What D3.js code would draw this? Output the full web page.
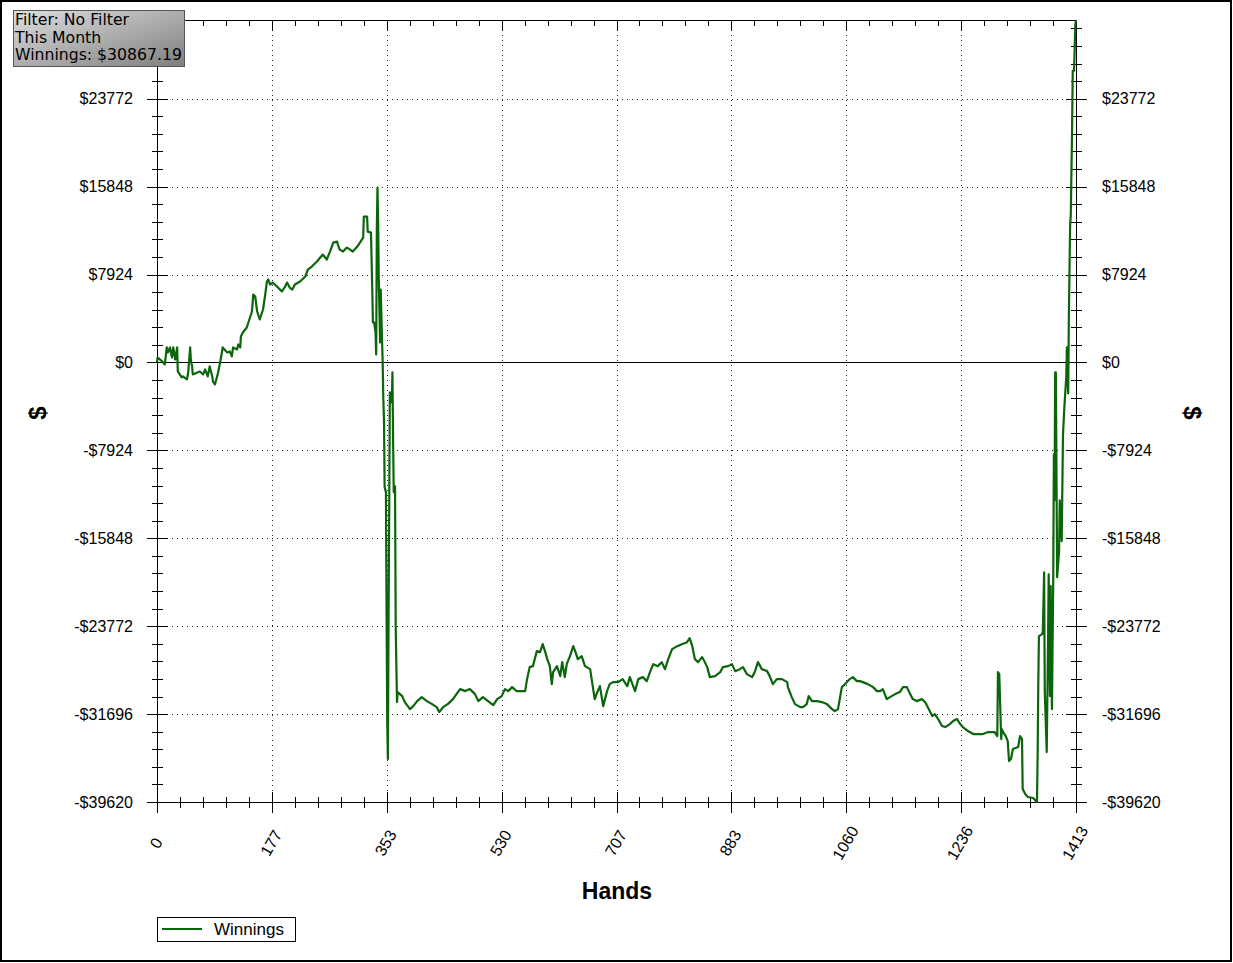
<!DOCTYPE html>
<html>
<head>
<meta charset="utf-8">
<script src="https://cdn.jsdelivr.net/npm/d3@7"></script>
<style>
  html, body { margin: 0; padding: 0; background: #fff; }
  svg { display: block; }
</style>
</head>
<body>
<svg id="chart" width="1233" height="963"></svg>
<script>
// ---------- DATA ----------
const infoLines = ["Filter: No Filter", "This Month", "Winnings: $30867.19"];
const seriesName = "Winnings";
const xAxisTitle = "Hands";
const yAxisTitle = "$";
const xTickValues = [0, 177, 353, 530, 707, 883, 1060, 1236, 1413];
const xTickLabels = ["0", "177", "353", "530", "707", "883", "1060", "1236", "1413"];
const yTickValues = [-39620, -31696, -23772, -15848, -7924, 0, 7924, 15848, 23772];
const yTickLabels = ["-$39620", "-$31696", "-$23772", "-$15848", "-$7924", "$0", "$7924", "$15848", "$23772"];
const hands = [0,1,8,12,15,17,20,23,25,28,31,32,38,40,46,48,51,52,54,55,62,66,71,74,78,81,85,86,89,92,94,97,100,101,108,112,115,117,123,125,128,129,132,138,143,146,148,151,154,158,163,166,169,171,174,178,186,192,197,200,204,208,212,220,228,232,238,246,251,255,261,266,271,277,278,281,286,292,297,301,308,312,317,318,323,324,329,331,332,334,336,337,338,339,340,341,343,344,346,347,348,349,350,352,353,354,355,356,357,358,360,361,362,363,364,366,367,369,370,377,381,389,394,400,407,415,423,430,434,440,447,455,466,474,481,489,494,501,509,517,523,530,535,540,546,553,566,569,573,578,584,589,593,597,600,604,607,609,615,620,623,627,630,635,640,643,647,653,658,666,669,673,677,681,686,692,696,701,709,716,723,727,735,740,747,753,758,763,770,776,781,786,792,800,807,815,819,823,827,832,838,840,846,850,858,866,870,878,884,889,896,901,907,915,919,924,930,938,942,947,953,961,969,970,976,981,989,993,999,1002,1007,1015,1022,1030,1038,1042,1047,1053,1058,1065,1070,1076,1081,1085,1093,1101,1107,1112,1116,1122,1127,1135,1142,1147,1153,1158,1162,1168,1176,1181,1185,1192,1196,1201,1207,1212,1219,1224,1230,1235,1239,1247,1255,1262,1270,1278,1284,1288,1292,1293,1295,1298,1299,1301,1305,1308,1310,1313,1316,1324,1327,1330,1331,1335,1339,1347,1353,1354,1355,1356,1361,1362,1364,1365,1368,1370,1371,1373,1374,1376,1378,1379,1380,1381,1382,1384,1387,1388,1391,1393,1395,1398,1399,1401,1402,1404,1405,1407,1408,1410,1412,1413];
const winnings = [0,450,90,-180,1351,900,1351,450,1351,270,1351,-810,-1351,-1261,-1531,-900,1351,270,-360,-1081,-900,-810,-1081,-630,-1261,-360,-1261,-1711,-1981,-1351,-900,0,990,1351,900,990,540,1351,1171,1621,1351,2341,2701,3152,4052,4592,6123,5943,4592,3872,4772,5943,7294,7474,7024,7204,6753,6393,6843,7204,6753,6573,7024,7294,7744,8374,8644,9095,9455,9725,9275,9995,10805,10895,10625,10175,9995,10355,10175,9995,10445,10805,11256,13147,13147,11796,11706,6573,3602,3602,2701,720,11976,15758,12606,7474,1801,6573,2071,0,-3332,-5133,-11256,-11706,-22871,-32416,-35748,-23142,-13867,-2701,-3062,-3602,-900,-6933,-11706,-11166,-23772,-30615,-29715,-30075,-30615,-31246,-30976,-30525,-30165,-30525,-30795,-31066,-31516,-31066,-30795,-30345,-29445,-29625,-29445,-29895,-30525,-30165,-30525,-30885,-30345,-30075,-29445,-29625,-29265,-29625,-29625,-28544,-27464,-27374,-26023,-26113,-25393,-26113,-26743,-27374,-28994,-27914,-27374,-28274,-27014,-28364,-27194,-26473,-25573,-26023,-26743,-26473,-27374,-27644,-28814,-30345,-29715,-29175,-30976,-29625,-28994,-28814,-28814,-28544,-29175,-28364,-29625,-28544,-28364,-28724,-27914,-27194,-27374,-27014,-27644,-26743,-25843,-25573,-25393,-25213,-24852,-25573,-26743,-27014,-26563,-26743,-27464,-28364,-28274,-27914,-27464,-27374,-27194,-27824,-27644,-27464,-28094,-28364,-27914,-27014,-27644,-27824,-28274,-28994,-28544,-28544,-28814,-29265,-30165,-30795,-31066,-31066,-30795,-30075,-30525,-30525,-30615,-30795,-31246,-31426,-31246,-29265,-28994,-28544,-28364,-28724,-28724,-28814,-28994,-29265,-29625,-29625,-29445,-30345,-30165,-29895,-29715,-29265,-29265,-29895,-30345,-30525,-30345,-30615,-31066,-31876,-31696,-32146,-32776,-32866,-32596,-32326,-32146,-32596,-32866,-33227,-33497,-33497,-33497,-33317,-33317,-33317,-33677,-27914,-28094,-33947,-33047,-33317,-33677,-34127,-35928,-35748,-34848,-34667,-33677,-33947,-38449,-38899,-39170,-39260,-39620,-35478,-28994,-24672,-24492,-24222,-18909,-29715,-35118,-25213,-19090,-30075,-20170,-31246,-19540,-8284,-12426,-900,-900,-19360,-17019,-12426,-16118,-6483,-4142,-1351,1351,-2791,4142,12426,13327,21161,26293,26293,30435,30867.19];

// ---------- LAYOUT ----------
const svg = d3.select("#chart");
const L = 157, R = 1076, T = 20, B = 802;
const lineColor = "#0b650b";
const fontSans = "'Liberation Sans', Arial, sans-serif";

const n = Math.min(hands.length, winnings.length);
if (hands.length !== winnings.length) console.error("length mismatch", hands.length, winnings.length);
const data = d3.range(n).map(i => ({ h: hands[i], v: winnings[i] }));

const x = d3.scaleLinear().domain([0, 1413]).range([L, R]);
const y = d3.scaleLinear().domain([d3.min(winnings), d3.max(winnings)]).range([B, T]);

// outer frame
svg.append("rect").attr("x", 1).attr("y", 1).attr("width", 1230).attr("height", 960)
  .attr("fill", "#fff").attr("stroke", "#000").attr("stroke-width", 2);

// grid
const grid = svg.append("g");
yTickValues.filter(v => v !== 0).forEach(v => {
  grid.append("line").attr("x1", L).attr("x2", R)
    .attr("y1", Math.round(y(v)) + 0.5).attr("y2", Math.round(y(v)) + 0.5)
    .attr("stroke", "#222").attr("stroke-width", 1).attr("stroke-dasharray", "1,4");
});
xTickValues.slice(1, -1).forEach(v => {
  grid.append("line").attr("y1", T).attr("y2", B)
    .attr("x1", Math.round(x(v)) + 0.5).attr("x2", Math.round(x(v)) + 0.5)
    .attr("stroke", "#222").attr("stroke-width", 1).attr("stroke-dasharray", "1,4");
});
// zero line
svg.append("line").attr("x1", L).attr("x2", R)
  .attr("y1", Math.round(y(0)) + 0.5).attr("y2", Math.round(y(0)) + 0.5)
  .attr("stroke", "#000").attr("stroke-width", 1);

// axes frame lines
const ax = svg.append("g").attr("stroke", "#000").attr("stroke-width", 1);
ax.append("line").attr("x1", L + 0.5).attr("x2", L + 0.5).attr("y1", T).attr("y2", B + 0.5);
ax.append("line").attr("x1", R + 0.5).attr("x2", R + 0.5).attr("y1", T).attr("y2", B + 0.5);
ax.append("line").attr("x1", L).attr("x2", R + 1).attr("y1", B + 0.5).attr("y2", B + 0.5);
ax.append("line").attr("x1", L).attr("x2", R + 1).attr("y1", T + 0.5).attr("y2", T + 0.5);

// y ticks (major & minor)
const yStep = 7924;
const yMinor = d3.range(0, 60).map(i => -39620 + i * yStep / 5).filter(v => v <= y.domain()[1]);
yMinor.forEach((v, i) => {
  const major = i % 5 === 0;
  const yy = Math.round(y(v)) + 0.5;
  const s = major ? 10 : 5;
  ax.append("line").attr("x1", L - s).attr("x2", L + s + 1).attr("y1", yy).attr("y2", yy);
  ax.append("line").attr("x1", R - s).attr("x2", R + s + 1).attr("y1", yy).attr("y2", yy);
});
// x ticks
const xMinor = d3.range(0, 41).map(i => i * 1413 / 40);
xMinor.forEach((v, i) => {
  const major = i % 5 === 0;
  const xx = Math.round(x(v)) + 0.5;
  const s = major ? 10 : 5;
  ax.append("line").attr("x1", xx).attr("x2", xx).attr("y1", B - s).attr("y2", B + s + 1);
  ax.append("line").attr("x1", xx).attr("x2", xx).attr("y1", T).attr("y2", T + s + 1);
});

// y tick labels
const lbl = svg.append("g").attr("font-family", fontSans).attr("font-size", 16).attr("fill", "#000");
yTickValues.forEach((v, i) => {
  lbl.append("text").attr("x", 133).attr("y", y(v)).attr("dy", "0.35em")
    .attr("text-anchor", "end").text(yTickLabels[i]);
  lbl.append("text").attr("x", 1102).attr("y", y(v)).attr("dy", "0.35em")
    .attr("text-anchor", "start").text(yTickLabels[i]);
});
// x tick labels (rotated)
xTickValues.forEach((v, i) => {
  lbl.append("text")
    .attr("transform", `translate(${x(v) - 1},843) rotate(-60)`)
    .attr("text-anchor", "middle").attr("dy", "0.35em")
    .text(xTickLabels[i]);
});

// axis titles
svg.append("text").attr("x", 617).attr("y", 899).attr("text-anchor", "middle")
  .attr("font-family", fontSans).attr("font-weight", "bold").attr("font-size", 23)
  .text(xAxisTitle);
svg.append("text").attr("transform", "translate(38,413) rotate(-90)")
  .attr("text-anchor", "middle").attr("dy", "0.35em")
  .attr("font-family", fontSans).attr("font-weight", "bold").attr("font-size", 24)
  .text(yAxisTitle);
svg.append("text").attr("transform", "translate(1192,413) rotate(90)")
  .attr("text-anchor", "middle").attr("dy", "0.35em")
  .attr("font-family", fontSans).attr("font-weight", "bold").attr("font-size", 24)
  .text(yAxisTitle);

// series line
const line = d3.line().x(d => x(d.h)).y(d => y(d.v));
svg.append("path").datum(data).attr("d", line)
  .attr("fill", "none").attr("stroke", lineColor).attr("stroke-width", 2.2)
  .attr("stroke-linejoin", "round");

// info box
const defs = svg.append("defs");
const grad = defs.append("linearGradient").attr("id", "boxgrad")
  .attr("x1", "0%").attr("y1", "0%").attr("x2", "100%").attr("y2", "100%");
grad.append("stop").attr("offset", "0%").attr("stop-color", "#dedede");
grad.append("stop").attr("offset", "100%").attr("stop-color", "#7e7e7e");
svg.append("rect").attr("x", 13.5).attr("y", 10.5).attr("width", 171).attr("height", 56)
  .attr("fill", "url(#boxgrad)").attr("stroke", "#555").attr("stroke-width", 1);
const info = svg.append("g").attr("font-family", "'DejaVu Sans', Verdana, sans-serif")
  .attr("font-size", 15.7).attr("fill", "#000");
infoLines.forEach((t, i) => {
  info.append("text").attr("x", 15).attr("y", 25 + i * 17.5).text(t);
});

// legend
svg.append("rect").attr("x", 157.5).attr("y", 917.5).attr("width", 138).attr("height", 24)
  .attr("fill", "#fff").attr("stroke", "#000").attr("stroke-width", 1);
svg.append("line").attr("x1", 162).attr("x2", 202).attr("y1", 929).attr("y2", 929)
  .attr("stroke", lineColor).attr("stroke-width", 2);
svg.append("text").attr("x", 214).attr("y", 935)
  .attr("font-family", fontSans).attr("font-size", 17).text(seriesName);
</script>
</body>
</html>
